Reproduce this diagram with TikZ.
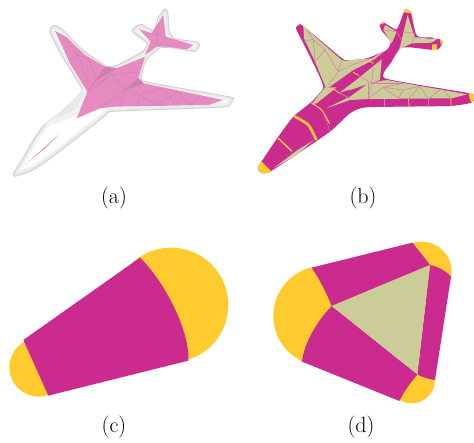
\documentclass[tikz,border=0pt]{standalone}
\definecolor{mag}{HTML}{CB2A8E}
\definecolor{yel}{HTML}{FFCB2F}
\definecolor{bei}{HTML}{CCCC99}
\definecolor{pnk}{HTML}{E58BC0}
\definecolor{pnkd}{HTML}{D27DB0}
\definecolor{meshb}{HTML}{D47FA8}
\definecolor{meshg}{HTML}{B585AD}
\tikzset{
 lab/.style={font=\fontsize{22}{25}\selectfont,inner sep=0pt},
 meshA/.style={meshg,line width=0.3pt},
 meshB/.style={meshb,line width=0.5pt},
 stripe/.style={yel,line cap=round},
 zoomed/.style={scale=1/3}
}
\def\outerA{(40,520) (70,470) (105,410) (135,370) (170,345) (215,305) (245,270) (220,225) (180,160) (150,100) (150,85) (165,75) (190,90) (250,150) (320,197) (350,195) (425,155) (440,130) (395,95) (405,80) (425,72) (460,90) (475,50) (495,25) (505,40) (508,90) (525,115) (590,125) (600,135) (585,155) (520,145) (480,145) (440,180) (425,230) (440,245) (690,290) (700,297) (685,320) (600,325) (340,335) (320,345) (250,400) (160,470) (100,510) (45,530)}
\def\outerB{(55,500) (115,410) (160,350) (215,305) (250,262) (225,200) (190,130) (168,85) (180,72) (210,95) (270,145) (315,180) (380,175) (440,150) (452,125) (425,92) (419,75) (430,67) (470,88) (490,40) (497,27) (512,35) (520,70) (532,108) (600,118) (608,128) (590,150) (510,142) (480,145) (455,185) (435,235) (690,280) (702,295) (695,308) (630,318) (380,322) (330,340) (270,395) (160,470) (85,518) (62,518)}
\begin{document}
\begin{tikzpicture}[x=1pt,y=-1pt]
\useasboundingbox (0,0) rectangle (474,443);
% (a)
\begin{scope}[zoomed]
 \fill[white] plot[smooth cycle,tension=0.35] coordinates {\outerA};
 \begin{scope}
  \clip plot[smooth cycle,tension=0.35] coordinates {\outerA};
  \draw[black!5,line width=9pt] plot[smooth cycle,tension=0.35] coordinates {\outerA};
  \draw[black!9,line width=5pt] plot[smooth cycle,tension=0.35] coordinates {\outerA};
  \draw[black!20,line width=1.4pt] plot[smooth cycle,tension=0.35] coordinates {\outerA};
  \fill[black!5] plot[smooth cycle] coordinates {(135,372) (170,345) (245,270) (262,285) (225,345) (175,368)};
  \fill[black!9] plot[smooth cycle] coordinates {(165,352) (215,305) (245,272) (250,290) (215,335)};
 \end{scope}
 \fill[pnk] (165,92) -- (200,112) -- (255,165) -- (315,200) -- (350,205) -- (435,170) -- (415,235) -- (430,250) -- (670,300) -- (625,315) -- (345,320) -- (300,325) -- (230,355) -- (262,275) -- (210,190) -- cycle;
 \fill[pnk] (417,87) -- (455,100) -- (490,45) -- (497,110) -- (580,135) -- (560,148) -- (500,140) -- (470,140) -- (435,165) -- (452,125) -- cycle;
 \fill[pnk] (75,495) -- (180,400) -- (135,445) -- cycle;
 \fill[pnkd] (262,275) -- (315,200) -- (350,205) -- (290,240) -- cycle;
 \fill[pnkd] (375,270) -- (415,235) -- (430,250) -- (400,262) -- cycle;
 \foreach \a/\b in {{195,110}/{235,165},{235,165}/{262,175},{235,165}/{205,180},{235,165}/{265,250},{265,175}/{295,255},{295,255}/{345,205},{295,255}/{262,275},{295,255}/{335,225},{335,225}/{375,270},{335,225}/{410,215},{375,270}/{415,235},{375,270}/{300,325},{375,270}/{420,285},{375,270}/{360,320},{420,285}/{415,318},{420,285}/{480,265},{420,285}/{470,315},{480,265}/{510,290},{510,290}/{470,315},{510,290}/{535,275},{510,290}/{525,315},{535,275}/{570,315},{570,315}/{600,290},{475,70}/{470,140},{455,100}/{497,110},{497,110}/{475,140},{497,110}/{500,140}}
  \draw[meshA] (\a) -- (\b);
\end{scope}
% (b)
\begin{scope}[shift={(240,0)},zoomed]
 \fill[mag] plot[smooth cycle,tension=0.3] coordinates {\outerB};
 \begin{scope}
  \clip plot[smooth cycle,tension=0.3] coordinates {\outerB};
  \fill[yel] (50,495) -- (65,485) -- (92,512) -- (80,530) -- (45,530) -- cycle;
  \fill[yel] (685,270) -- (688,292) -- (695,312) -- (712,312) -- (712,270) -- cycle;
  \fill[yel] (485,36) -- (515,40) -- (515,18) -- (485,18) -- cycle;
  \fill[yel] (165,80) -- (178,76) -- (180,65) -- (160,65) -- cycle;
  \fill[yel] (600,116) -- (602,133) -- (615,135) -- (615,112) -- cycle;
  \fill[yel] (576,134) -- (590,132) -- (592,155) -- (576,155) -- cycle;
  \fill[yel] (415,74) -- (430,72) -- (434,62) -- (415,62) -- cycle;
 \end{scope}
 \fill[bei] (190,77) -- (225,110) -- (305,180) -- (315,182) -- (395,175) -- (435,153) -- (400,180) -- (340,210) -- (270,260) -- (258,265) -- (225,185) -- (192,115) -- cycle;
 \fill[bei] (300,277) -- (355,235) -- (425,178) -- (420,240) -- (390,250) -- (340,267) -- cycle;
 \fill[bei] (258,325) -- (330,290) -- (385,250) -- (420,243) -- (440,240) -- (682,283) -- (635,295) -- (385,297) -- (330,300) -- cycle;
 \fill[bei] (503,45) -- (520,100) -- (525,112) -- (590,118) -- (575,128) -- (515,130) -- (478,148) -- (485,120) -- cycle;
 \fill[bei] (435,75) -- (470,95) -- (455,130) -- (430,90) -- cycle;
 \fill[bei] (100,505) -- (170,452) -- (222,420) -- (170,465) -- cycle;
 \fill[bei] (215,312) -- (255,262) -- (290,262) -- (230,310) -- cycle;
 \foreach \a/\b in {{190,125}/{220,118},{220,118}/{255,150},{200,90}/{220,118},{220,118}/{225,185},{225,185}/{255,150},{255,150}/{295,215},{295,215}/{305,180},{295,215}/{265,255},{295,215}/{335,195},{335,195}/{395,175},{275,262}/{325,295},{345,220}/{395,250},{395,250}/{400,195},{395,250}/{440,240},{395,250}/{385,295},{385,295}/{430,262},{430,262}/{490,270},{430,262}/{475,295},{490,270}/{475,295},{490,270}/{540,258},{540,258}/{505,297},{540,258}/{565,297},{565,297}/{605,265},{605,265}/{632,295},{395,250}/{490,250},{490,250}/{430,262},{270,395}/{250,335},{485,95}/{525,100},{470,95}/{485,120},{525,100}/{515,130},{525,112}/{580,112},{430,90}/{470,95},{300,280}/{330,295},{385,250}/{385,297}}
  \draw[meshB] (\a) -- (\b);
 \foreach \a/\b in {{433,298}/{433,320},{565,297}/{565,320}}
  \draw[meshB,line width=0.8pt] (\a) -- (\b);
 \draw[stripe,line width=1.5pt] (115,415) -- (155,453);
 \draw[stripe,line width=2.7pt] plot[smooth] coordinates {(165,350) (205,375) (228,418)};
 \draw[stripe,line width=1.1pt] plot[smooth] coordinates {(215,310) (245,330) (268,370)};
 \draw[stripe,line width=0.8pt] (505,297) -- (508,320);
 \draw[stripe,line width=0.8pt] (632,295) -- (634,318);
 \draw[stripe,line width=0.8pt] (275,265) -- (300,280);
 \draw[stripe,line width=0.8pt] (340,217) -- (355,225);
 \draw[stripe,line width=0.8pt] (385,183) -- (400,190);
\end{scope}
% (c)
\begin{scope}[shift={(0,230)},zoomed]
 \fill[yel] (513,225) circle[radius=172];
 \fill[yel] (116,412) circle[radius=88];
 \fill[mag] (420,83) .. controls (490,150) and (570,300) .. (565,392) -- (145,497) -- (70,330) -- cycle;
\end{scope}
% (d)
\begin{scope}[shift={(240,230)},zoomed]
 \fill[yel] (250,258) circle[radius=150];
 \fill[yel] (545,125) circle[radius=90];
 \fill[yel] (515,450) circle[radius=70];
 \fill[mag] (215,113) -- (517,38) .. controls (535,60) and (555,85) .. (570,105) -- (275,228) .. controls (260,190) and (240,150) .. (215,113) -- cycle;
 \fill[mag] (570,105) .. controls (595,110) and (620,125) .. (633,140) -- (585,450) .. controls (565,447) and (548,442) .. (532,433) -- cycle;
 \fill[mag] (275,228) -- (532,433) .. controls (510,460) and (492,485) .. (478,513) -- (186,395) .. controls (192,340) and (230,275) .. (275,228) -- cycle;
 \fill[bei] (275,228) -- (570,105) -- (532,433) -- cycle;
\end{scope}
\node[lab] (la) at (114,198) {(a)};
\node[lab] (lb) at (363,198) {(b)};
\node[lab] (lc) at (114,427) {(c)};
\node[lab] (ld) at (361,427) {(d)};
\end{tikzpicture}
\end{document}
